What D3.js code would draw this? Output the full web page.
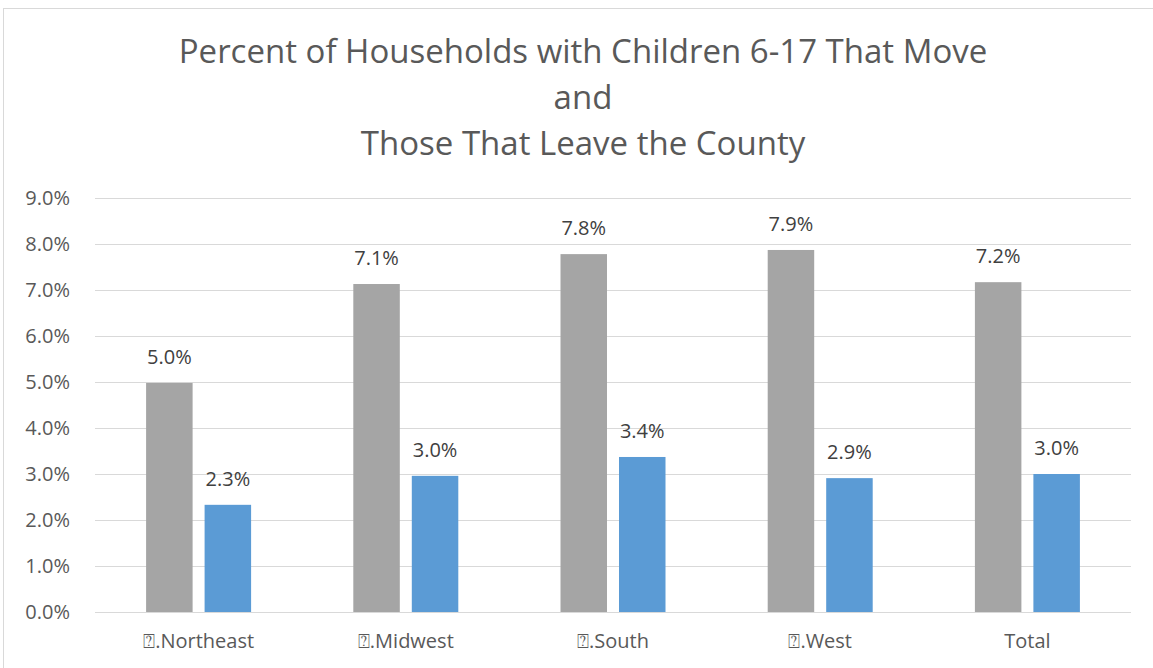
<!DOCTYPE html>
<html><head><meta charset="utf-8">
<script src="https://cdn.jsdelivr.net/npm/d3@7"></script>
<style>body{margin:0;background:#fff;} svg{display:block;}</style>
</head><body>
<script>
const categories = ["\u2370.Northeast", "\u2370.Midwest", "\u2370.South", "\u2370.West", "Total"];
const moveValues = [4.98, 7.13, 7.78, 7.87, 7.17];
const leaveValues = [2.33, 2.96, 3.37, 2.91, 3.00];
const yTicks = [0, 1, 2, 3, 4, 5, 6, 7, 8, 9];
const titleLines = ["Percent of Households with Children 6-17 That Move", "and", "Those That Leave the County"];

(function () {
const W = 1153, H = 668;
const font = "'Open Sans', sans-serif";
const svg = d3.select("body").append("svg").attr("width", W).attr("height", H);
svg.append("rect").attr("width", W).attr("height", H).attr("fill", "#fff");
svg.append("rect").attr("x", 3.5).attr("y", 8.5).attr("width", W + 20).attr("height", H + 20)
  .attr("fill", "none").attr("stroke", "#D9D9D9").attr("stroke-width", 1);

const pLeft = 95, pRight = 1131, pTop = 198, pBottom = 612;
const x = d3.scaleBand().domain(categories).range([pLeft, pRight]);
const y = d3.scaleLinear().domain([0, 9]).range([pBottom, pTop]);
const inner = d3.scaleBand().domain(["move", "leave"]).range([0, 105]).paddingInner(0.205);

svg.append("g").selectAll("line").data(yTicks).join("line")
  .attr("x1", pLeft).attr("x2", pRight)
  .attr("y1", d => Math.round(y(d)) + 0.5).attr("y2", d => Math.round(y(d)) + 0.5)
  .attr("stroke", "#D9D9D9").attr("stroke-width", 1);

const yAxis = d3.axisLeft(y).tickValues(yTicks).tickFormat(d => d.toFixed(1) + "%").tickSize(0).tickPadding(25);
const ya = svg.append("g").attr("transform", `translate(${pLeft},0)`).call(yAxis);
ya.select(".domain").remove();
ya.selectAll("text").attr("font-family", font).attr("font-size", 20).attr("fill", "#595959");

const xAxis = d3.axisBottom(x).tickSize(0).tickPadding(22);
const xa = svg.append("g").attr("transform", `translate(0,${pBottom})`).call(xAxis);
xa.select(".domain").remove();
xa.selectAll("text").attr("font-family", font).attr("font-size", 20).attr("fill", "#595959");

const rows = categories.map((c, i) => ({c, move: moveValues[i], leave: leaveValues[i]}));
const groups = svg.append("g").selectAll("g").data(rows).join("g")
  .attr("transform", d => `translate(${x(d.c) + (x.bandwidth() - 105) / 2},0)`);

const series = [{key: "move", color: "#A5A5A5"}, {key: "leave", color: "#5B9BD5"}];
series.forEach(s => {
  groups.append("rect")
    .attr("x", inner(s.key)).attr("width", inner.bandwidth())
    .attr("y", d => y(d[s.key])).attr("height", d => pBottom - y(d[s.key]))
    .attr("fill", s.color);
  groups.append("text")
    .attr("x", inner(s.key) + inner.bandwidth() / 2)
    .attr("y", d => y(d[s.key]) - 19)
    .attr("text-anchor", "middle").attr("font-family", font).attr("font-size", 20).attr("fill", "#404040")
    .text(d => d[s.key].toFixed(1) + "%");
});

svg.append("g").selectAll("text").data(titleLines).join("text")
  .attr("x", 583).attr("y", (d, i) => 63 + i * 46)
  .attr("text-anchor", "middle").attr("font-family", font).attr("font-size", 33).attr("fill", "#595959")
  .text(d => d);
})();
</script>
</body></html>
